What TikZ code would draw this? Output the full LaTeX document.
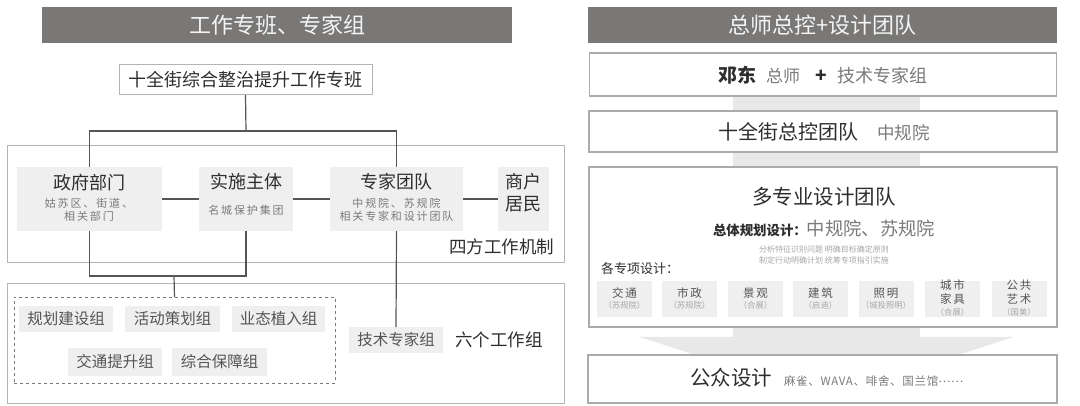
\documentclass[tikz,border=0pt]{standalone}
\usepackage{fontspec}
\setmainfont{Noto Sans CJK SC}
\newcommand\fsz[2]{\fontsize{#1pt}{#2pt}\selectfont}
\newcommand\lsp[1]{\addfontfeatures{LetterSpace=#1}}
\definecolor{hdr}{HTML}{7A7876}
\definecolor{hdrtxt}{HTML}{F4F4F4}
\definecolor{frameC}{HTML}{B4B4B4}
\definecolor{lineC}{HTML}{555555}
\definecolor{lboxC}{HTML}{EFEFEF}
\definecolor{darkT}{HTML}{2E2E2E}
\definecolor{midT}{HTML}{555555}
\definecolor{grayT}{HTML}{7A7A7A}
\definecolor{lightT}{HTML}{A8A8A8}
\definecolor{arrowC}{HTML}{E8E8E8}
\definecolor{rframe}{HTML}{ABABAB}
\begin{document}
\begin{tikzpicture}[x=1pt,y=-1pt,
  every node/.style={inner sep=0pt, outer sep=0pt},
  hdrbox/.style={fill=hdr, text=hdrtxt, font={\fsz{22}{26}}},
  topbox/.style={draw=frameC, line width=1pt, fill=white, text=darkT, font={\fsz{18}{22}}},
  frame/.style={draw=frameC, line width=1pt},
  dashframe/.style={draw=grayT, line width=0.9pt, dashed},
  lbox/.style={fill=lboxC},
  ttl/.style={text=darkT, font={\fsz{18}{22}}},
  subt/.style={text=grayT, align=center, font={\fsz{11}{12.6}\lsp{17}}},
  grp/.style={fill=lboxC, text=midT, font={\fsz{15.5}{18}}},
  big/.style={text=darkT, font={\fsz{17.5}{20}}},
  conn/.style={draw=lineC, line width=1.2pt},
  rbox/.style={draw=rframe, line width=1.2pt, fill=white},
  sbox/.style={fill=lboxC, minimum width=55pt, minimum height=36pt},
  stitle/.style={text=midT, align=center, font={\fsz{11.5}{14}\lsp{14}}},
  ssub/.style={text=lightT, font={\fsz{8.3}{10}}}
]
\useasboundingbox (0,0) rectangle (1080,406);
\fill[white] (0,0) rectangle (1080,406);

% ---------------- left panel ----------------
\node[hdrbox, minimum width=470pt, minimum height=36pt] (hl) at (277,25.5) {工作专班、专家组};
\node[topbox, minimum width=253pt, minimum height=30pt] (top) at (245.5,80) {十全街综合整治提升工作专班};

\node[frame, minimum width=557pt, minimum height=117pt] (four) at (285.5,204.5) {};
\node[frame, minimum width=557pt, minimum height=119pt] (six) at (285.5,343.5) {};

\node[lbox, minimum width=145pt, minimum height=64pt] (gov) at (89.5,199) {};
\node[lbox, minimum width=94pt, minimum height=64pt] (impl) at (246,199) {};
\node[lbox, minimum width=133pt, minimum height=64pt] (exp) at (396.5,199) {};
\node[lbox, minimum width=51pt, minimum height=64pt] (res) at (523.5,199) {};

\node[ttl] (govt) at (89.5,183) {政府部门};
\node[subt] (govs) at (89,210) {姑苏区、街道、\\相关部门};
\node[ttl] (implt) at (246,182) {实施主体};
\node[subt] (impls) at (246,210) {名城保护集团};
\node[ttl] (expt) at (396.5,182) {专家团队};
\node[subt] (exps) at (396.5,210) {中规院、苏规院\\相关专家和设计团队};
\node[ttl, align=center, font={\fsz{18}{22}}] (rest) at (523.5,193) {商户\\居民};
\node[big, anchor=east] (fourt) at (554,247) {四方工作机制};

\coordinate (j1) at (246,131);
\coordinate (b1) at (174,276);
\draw[conn] (top.south) -- (j1);
\draw[conn] (gov.north) -- (gov.north |- j1) -- (exp.north |- j1) -- (exp.north);
\draw[conn] (gov.east) -- (impl.west);
\draw[conn] (impl.east) -- (exp.west);
\draw[conn] (exp.east) -- (res.west);

\node[dashframe, minimum width=321pt, minimum height=86pt] (dash) at (174.5,340) {};
\draw[conn] (gov.south) -- (gov.south |- b1) -- (impl.south |- b1) -- (impl.south);
\draw[conn] (dash.north) -- (b1);

\node[grp, minimum width=94pt, minimum height=26pt] (g1) at (66,319) {规划建设组};
\node[grp, minimum width=95pt, minimum height=26pt] (g2) at (172.5,319) {活动策划组};
\node[grp, minimum width=93pt, minimum height=26pt] (g3) at (278.5,319) {业态植入组};
\node[grp, minimum width=94pt, minimum height=28pt] (g4) at (115,362) {交通提升组};
\node[grp, minimum width=95pt, minimum height=28pt] (g5) at (219.5,362) {综合保障组};
\node[grp, minimum width=94pt, minimum height=26pt] (tech) at (396,340) {技术专家组};
\draw[conn] (exp.south) -- (tech.north);
\node[big, anchor=west] (sixt) at (455,340) {六个工作组};

% ---------------- right panel ----------------
\node[hdrbox, minimum width=469pt, minimum height=36pt] (hr) at (822.5,25) {总师总控+设计团队};

\fill[arrowC] (733,75) rectangle (920,337);
\fill[arrowC] (640,337) -- (1013,337) -- (826.5,398) -- cycle;

\node[rbox, minimum width=467pt, minimum height=43pt] (r1) at (823,74.5) {};
\node[rbox, minimum width=468pt, minimum height=41pt] (r2) at (823,131.5) {};
\node[rbox, minimum width=468pt, minimum height=160pt] (r3) at (823,247) {};
\node[rbox, minimum width=469pt, minimum height=48pt] (r4) at (822.5,379) {};

\node[anchor=west, text=darkT] (r1t) at (718,75)
  {{\fsz{19}{22}\bfseries 邓东}\hspace{10pt}{\color{grayT}\fsz{17}{20}总师}\hspace{15pt}{\fsz{19}{22}\bfseries +}\hspace{11pt}{\color{grayT}\fsz{18}{20}技术专家组}};
\node[anchor=west, text=darkT] (r2t) at (718,132)
  {{\fsz{20}{24}十全街总控团队}\hspace{19pt}{\color{grayT}\fsz{17.5}{20}中规院}};

\node[text=darkT, font={\fsz{20.5}{24}}] (r3t) at (824,197) {多专业设计团队};
\node[anchor=west, text=darkT] (r3p) at (713,228)
  {{\fsz{13.4}{16}\bfseries 总体规划设计：}{\color{grayT}\fsz{18.3}{22}中规院、苏规院}};
\node[text=lightT, align=center, font={\fsz{8}{11}}] (r3s) at (824,254.5)
  {分析特征识别问题 明确目标确定原则\\制定行动明确计划 统筹专项指引实施};
\node[anchor=west, text=darkT, font={\fsz{13}{16}}] (r3g) at (601,269) {各专项设计：};

\foreach \i/\cx/\t/\s in {1/624.5/交通/苏规院, 2/689.5/市政/苏规院, 3/755.5/景观/合展, 4/820.5/建筑/启迪, 5/886/照明/城投照明} {
  \node[sbox] (s\i) at (\cx,299) {};
  \node[stitle] (st\i) at (\cx,293) {\t};
  \node[ssub] (ss\i) at (\cx,305) {（\s）};
}
\node[sbox] (s6) at (952.5,299) {};
\node[stitle] (st6) at (952.5,292) {城市\\家具};
\node[ssub] (ss6) at (952.5,312) {（合展）};
\node[sbox] (s7) at (1019,299) {};
\node[stitle] (st7) at (1019,292) {公共\\艺术};
\node[ssub] (ss7) at (1019,312) {（国美）};

\node[anchor=west, text=darkT] (r4t) at (690,378)
  {{\fsz{20.5}{24}公众设计}\hspace{12pt}{\color{grayT}\fsz{11.5}{14}\lsp{6}麻雀、WAVA、啡舍、国兰馆\raisebox{3.2pt}{……}}};
\end{tikzpicture}
\end{document}
